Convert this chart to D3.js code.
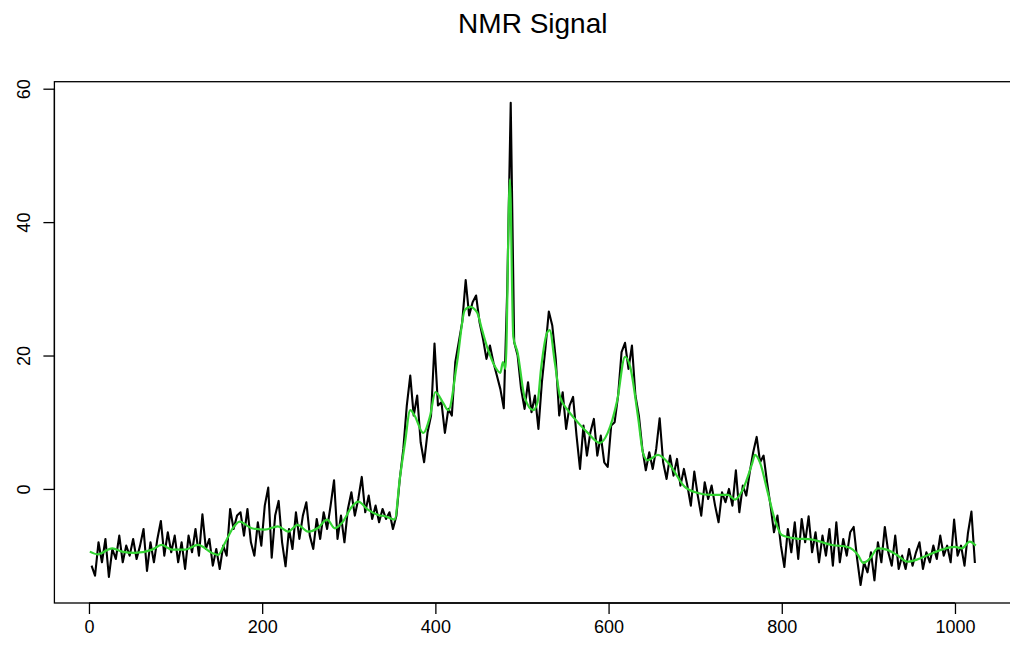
<!DOCTYPE html>
<html>
<head>
<meta charset="utf-8">
<script src="https://cdn.jsdelivr.net/npm/d3@7"></script>
<style>
  body { margin: 0; background: #fff; }
  svg { display: block; font-family: "Liberation Sans", Arial, sans-serif; }
  .line { fill: none; stroke-linejoin: round; }
</style>
</head>
<body>
<div id="chart"></div>
<script>
// chart text and ticks
var title = "NMR Signal";
var xTicks = [0, 200, 400, 600, 800, 1000];
var yTicks = [0, 20, 40, 60];

// raw signal, read every 4th sample starting at index 3
var signalStart = 3, signalStep = 4;
var signal = [
  -11.5, -13.0, -8.0, -11.0, -7.5, -13.2, -9.0, -10.5, -7.0, -11.0,
  -8.5, -10.0, -7.5, -10.5, -8.5, -6.0, -12.3, -8.0, -11.0, -7.5,
  -4.8, -10.0, -6.5, -9.5, -7.0, -11.0, -8.0, -12.0, -7.0, -9.5,
  -6.0, -10.0, -3.8, -9.0, -7.5, -11.5, -9.0, -12.0, -8.5, -10.0,
  -3.0, -6.0, -4.0,
  -3.5, -7.0, -3.0, -8.0, -10.0, -5.0, -8.5,
  -2.5, 0.2, -10.3, -4.0, -1.8, -8.0, -11.6, -6.0, -9.0, -3.5,
  -7.5, -4.0, -2.0, -7.0, -9.0, -4.5, -7.5, -3.5, -6.0, -2.5,
  1.3, -7.5, -4.0, -8.0, -3.0, -0.5, -4.0, -1.5, 1.8, -3.5,
  -1.0, -4.5, -2.5, -5.0, -3.0, -4.5,
  -3.5, -6.0, -4.0, 1.6,
  6.0, 12.5, 17.0, 11.0, 14.0, 7.0, 4.0, 8.5, 11.0, 21.8,
  12.5, 13.0, 8.4, 12.0, 11.0, 19.0, 22.0, 25.0, 31.3, 26.0,
  28.0, 29.0, 25.0, 22.5, 19.5, 21.5, 19.0, 17.0, 15.0, 12.1,
  30.0, 57.9, 22.0, 20.0, 15.0, 12.0, 16.0, 11.5, 14.0,
  9.0,
  16.0, 21.0, 26.6, 24.5, 19.5, 11.0, 14.5, 9.0, 12.5, 13.8,
  8.0, 3.0, 9.5, 5.0, 8.5, 10.5, 5.0, 8.0, 4.0, 3.3,
  9.5, 10.0, 14.0, 20.5, 21.9, 18.0, 21.5, 14.0, 11.0, 6.0,
  2.8, 5.5, 3.0, 6.0, 10.6, 4.0, 1.5, 5.0, 2.0, 4.5,
  0.5, 3.0,
  0.5, -2.5, 2.6, -1.0, -4.0, 1.0, -1.5, 0.5,
  -2.5, -5.0, -0.5, -2.0, 0.0, -2.5, 2.8, -3.5, 0.5, -1.0,
  2.5, 5.5, 7.8, 4.0, 5.0, 1.0, -2.5, -6.5, -4.0, -8.5,
  -11.7, -6.0, -9.5, -5.0, -10.5, -4.5, -8.0, -4.1, -9.5, -6.5,
  -11.0, -7.0, -10.0, -6.0, -11.5, -5.0,
  -11.0, -7.5, -10.0, -6.5,
  -5.7, -10.5, -14.4, -11.0, -12.5, -9.5, -13.7, -8.0, -11.0, -5.7,
  -9.5, -11.5, -7.0, -12.0, -10.0, -12.0, -9.0, -11.5, -9.5, -8.0,
  -12.0, -9.5, -11.0, -8.5, -10.5, -7.0, -10.0, -8.5, -11.0, -4.6,
  -10.0, -8.5, -11.5, -6.6, -3.4, -11.1
];

// smoothed (denoised) signal, read at knots
var smoothIndex = [
  1, 10, 27, 38, 53, 73, 84, 96, 111, 126, 142, 149, 157, 166, 174, 188,
  203, 218, 230, 241, 253, 264, 275, 284, 292, 304, 311, 322, 334, 342,
  353, 359, 365, 371, 376, 386, 394, 400, 409, 415, 425, 434, 440, 448,
  454, 461, 469, 475, 478, 481, 486, 490, 495, 503, 513, 518, 522, 529,
  532, 538, 544, 553, 565, 576, 590, 599, 610, 619, 625, 634, 640, 645,
  657, 669, 688, 703, 719, 738, 746, 755, 766, 769, 775, 783, 792, 800,
  815, 835, 858, 876, 888, 894, 902, 911, 921, 933, 945, 956, 969, 985,
  1000, 1008, 1017, 1024
];
var smoothValue = [
  -9.4, -9.8, -8.9, -9.4, -9.6, -9.1, -8.4, -9.1, -9.1, -8.4, -9.6, -9.9, -8.1, -5.9, -4.9, -5.9,
  -6.1, -5.6, -6.4, -5.4, -6.4, -5.9, -4.6, -5.9, -5.1, -2.6, -1.9, -3.1, -3.9, -4.1,
  -4.6, 1.6, 7.0, 11.8, 11.0, 8.4, 11.0, 14.5, 12.9, 11.8, 18.9, 26.8, 27.3, 26.5,
  23.8, 20.8, 18.3, 17.4, 19.0, 18.0, 46.4, 22.8, 20.4, 13.8, 11.8, 13.0, 18.0, 23.4,
  23.8, 18.9, 13.8, 11.8, 9.9, 8.4, 6.9, 8.4, 13.3, 19.8, 18.3, 10.8, 5.3, 4.3,
  5.1, 3.9, 0.3, -0.6, -0.9, -0.9, -1.6, -0.1, 3.9, 5.1, 3.9, -0.1, -4.6, -6.9,
  -7.4, -7.6, -8.4, -8.7, -9.9, -11.1, -10.4, -8.9, -9.1, -9.9, -10.9, -10.6, -9.9, -9.1,
  -8.7, -8.9, -7.9, -8.5
];

var W = 1010, H = 651;
// plot region (R style: data range padded by 4%)
var margin = {top: 81.7, right: -1.2, bottom: 48, left: 54.4};
var width = W - margin.left - margin.right;
var height = H - margin.top - margin.bottom;

var xScale = d3.scaleLinear().domain([-39.92, 1064.92]).range([0, width]);
var yScale = d3.scaleLinear().domain([-17.1, 61.05]).range([height, 0]);

var svg = d3.select("#chart").append("svg")
    .attr("width", W)
    .attr("height", H);

svg.append("rect").attr("width", W).attr("height", H).attr("fill", "#fff");

svg.append("text")
    .attr("x", margin.left + width / 2)
    .attr("y", 33)
    .attr("text-anchor", "middle")
    .attr("font-size", 28)
    .attr("fill", "#000")
    .text(title);

var g = svg.append("g")
    .attr("transform", "translate(" + margin.left + "," + margin.top + ")");

// x axis at the bottom of the box
var xAxis = g.append("g")
    .attr("transform", "translate(0," + height + ")")
    .call(d3.axisBottom(xScale).tickValues(xTicks).tickSize(11).tickPadding(6).tickFormat(d3.format("d")));
xAxis.select(".domain").attr("d", "M" + xScale(0) + ",0H" + xScale(1000)).attr("stroke-width", 1.3);
xAxis.selectAll(".tick line").attr("stroke-width", 1.3);
xAxis.selectAll(".tick text").attr("font-size", 18).attr("font-family", "Liberation Sans, Arial, sans-serif").attr("fill", "#000");

// y axis, labels turned parallel to the axis
var yAxis = g.append("g")
    .call(d3.axisLeft(yScale).tickValues(yTicks).tickSize(11).tickFormat(d3.format("d")));
yAxis.select(".domain").attr("d", "M0," + yScale(0) + "V" + yScale(60)).attr("stroke-width", 1.3);
yAxis.selectAll(".tick line").attr("stroke-width", 1.3);
yAxis.selectAll(".tick text")
    .attr("font-size", 18)
    .attr("font-family", "Liberation Sans, Arial, sans-serif")
    .attr("fill", "#000")
    .attr("x", null).attr("dy", null)
    .attr("text-anchor", "middle")
    .attr("transform", "translate(-24,0) rotate(-90)");

// box around the plot
g.append("rect")
    .attr("width", width)
    .attr("height", height)
    .attr("fill", "none")
    .attr("stroke", "#000")
    .attr("stroke-width", 1.3);

g.append("clipPath").attr("id", "clip")
  .append("rect").attr("width", width).attr("height", height);

var raw = signal.map(function(v, k) { return {x: signalStart + k * signalStep, y: v}; });
var smooth = smoothIndex.map(function(x, k) { return {x: x, y: smoothValue[k]}; });

var rawLine = d3.line()
    .x(function(d) { return xScale(d.x); })
    .y(function(d) { return yScale(d.y); });

var smoothLine = d3.line()
    .x(function(d) { return xScale(d.x); })
    .y(function(d) { return yScale(d.y); })
    .curve(d3.curveMonotoneX);

g.append("path")
    .datum(raw)
    .attr("class", "line")
    .attr("clip-path", "url(#clip)")
    .attr("stroke", "#000")
    .attr("stroke-width", 2.1)
    .attr("d", rawLine);

g.append("path")
    .datum(smooth)
    .attr("class", "line")
    .attr("clip-path", "url(#clip)")
    .attr("stroke", "#33d433")
    .attr("stroke-width", 2.2)
    .attr("d", smoothLine);
</script>
</body>
</html>
